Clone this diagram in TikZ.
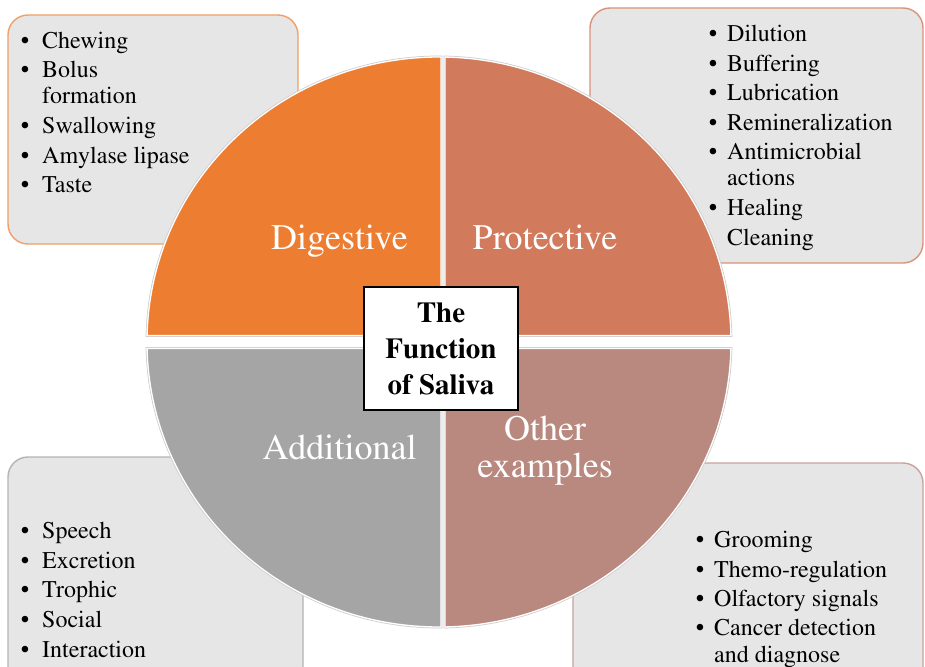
\documentclass[tikz,border=0pt]{standalone}
\usepackage[T1]{fontenc}
\renewcommand{\rmdefault}{ptm}
\definecolor{qorange}{HTML}{ED7D31}
\definecolor{qsalmon}{HTML}{D27A5C}
\definecolor{qgray}{HTML}{A5A5A5}
\definecolor{qrose}{HTML}{B9897F}
\definecolor{boxfill}{HTML}{E7E6E6}
\definecolor{bdorange}{HTML}{F0A068}
\definecolor{bdsalmon}{HTML}{D9937A}
\definecolor{bdgray}{HTML}{B4B4B4}
\definecolor{bdrose}{HTML}{C7A39C}
\begin{document}
\begin{tikzpicture}[x=1pt,y=-1pt,
  infobox/.style={fill=boxfill, rounded corners=20pt, line width=1.4pt},
  quad/.style={preaction={draw=black!20, line width=2.8pt}, draw=white, line width=1.3pt},
  qlabel/.style={inner sep=0, anchor=base, text=white, font=\fontsize{36}{37}\selectfont},
  itemtxt/.style={inner sep=0, anchor=base west, font=\fontsize{24}{28}\selectfont},
  itembul/.style={inner sep=0, anchor=base, font=\fontsize{24}{28}\selectfont},
  titlebox/.style={draw=black, line width=1.5pt, fill=white, minimum width=154pt, minimum height=123pt, inner sep=0, align=center, font=\fontsize{29}{36}\selectfont\bfseries}
]
\useasboundingbox (0,0) rectangle (925,666);
\clip (0,0) rectangle (925,666);
\fill[white] (0,0) rectangle (925,666);

% side boxes
\draw[infobox, draw=bdorange] (8,15) rectangle (298,244);
\draw[infobox, draw=bdsalmon] (590,8) rectangle (923,263);
\draw[infobox, draw=bdgray] (8,457) rectangle (303,692);
\draw[infobox, draw=bdrose] (573,463) rectangle (923,692);

% quadrants
\path[quad, fill=qorange] (441,335.5) -- (147.08,335.5) arc[start angle=181.31, end angle=270.39, x radius=292, y radius=285] -- cycle;
\path[quad, fill=qsalmon] (445,335.5) -- (445,57.06) arc[start angle=271.18, end angle=358.69, x radius=292, y radius=285] -- cycle;
\path[quad, fill=qgray] (441,348.5) -- (147.08,348.5) arc[start angle=178.69, end angle=89.61, x radius=292, y radius=285] -- cycle;
\path[quad, fill=qrose] (445,348.5) -- (445,626.94) arc[start angle=88.82, end angle=1.31, x radius=292, y radius=285] -- cycle;

% quadrant labels
\node[qlabel] (dig) at (339.5,249) {Digestive};
\node[qlabel] (pro) at (545,249) {Protective};
\node[qlabel] (add) at (339.5,459) {Additional};
\node[qlabel] (oth1) at (545,440) {Other};
\node[qlabel] (oth2) at (545,477) {examples};

% centre title
\node[titlebox] (title) at (441,348.5) {The\\Function\\of Saliva};

% top-left list
\node[itembul] (tlb1) at (25,49) {\textbullet};
\node[itemtxt] (tl1) at (42,49) {Chewing};
\node[itembul] (tlb2) at (25,78) {\textbullet};
\node[itemtxt] (tl2) at (42,78) {Bolus};
\node[itemtxt] (tl2b) at (42,103.5) {formation};
\node[itembul] (tlb3) at (25,133) {\textbullet};
\node[itemtxt] (tl3) at (42,133) {Swallowing};
\node[itembul] (tlb4) at (25,163) {\textbullet};
\node[itemtxt] (tl4) at (42,163) {Amylase lipase};
\node[itembul] (tlb5) at (25,192) {\textbullet};
\node[itemtxt] (tl5) at (42,192) {Taste};

% top-right list
\node[itembul] (trb1) at (713,42) {\textbullet};
\node[itemtxt] (tr1) at (727,42) {Dilution};
\node[itembul] (trb2) at (713,72) {\textbullet};
\node[itemtxt] (tr2) at (727,72) {Buffering};
\node[itembul] (trb3) at (713,101) {\textbullet};
\node[itemtxt] (tr3) at (727,101) {Lubrication};
\node[itembul] (trb4) at (713,130) {\textbullet};
\node[itemtxt] (tr4) at (727,130) {Remineralization};
\node[itembul] (trb5) at (713,159) {\textbullet};
\node[itemtxt] (tr5) at (727,159) {Antimicrobial};
\node[itemtxt] (tr5b) at (727,185) {actions};
\node[itembul] (trb6) at (713,215) {\textbullet};
\node[itemtxt] (tr6) at (727,215) {Healing};
\node[itemtxt] (tr7) at (727,245) {Cleaning};

% bottom-left list
\node[itembul] (blb1) at (25,538) {\textbullet};
\node[itemtxt] (bl1) at (42,538) {Speech};
\node[itembul] (blb2) at (25,568) {\textbullet};
\node[itemtxt] (bl2) at (42,568) {Excretion};
\node[itembul] (blb3) at (25,597) {\textbullet};
\node[itemtxt] (bl3) at (42,597) {Trophic};
\node[itembul] (blb4) at (25,627) {\textbullet};
\node[itemtxt] (bl4) at (42,627) {Social};
\node[itembul] (blb5) at (25,657) {\textbullet};
\node[itemtxt] (bl5) at (42,657) {Interaction};

% bottom-right list
\node[itembul] (brb1) at (700,547) {\textbullet};
\node[itemtxt] (br1) at (714,547) {Grooming};
\node[itembul] (brb2) at (700,577) {\textbullet};
\node[itemtxt] (br2) at (714,577) {Themo-regulation};
\node[itembul] (brb3) at (700,606) {\textbullet};
\node[itemtxt] (br3) at (714,606) {Olfactory signals};
\node[itembul] (brb4) at (700,635) {\textbullet};
\node[itemtxt] (br4) at (714,635) {Cancer detection};
\node[itemtxt] (br4b) at (714,662) {and diagnose};
\end{tikzpicture}
\end{document}
